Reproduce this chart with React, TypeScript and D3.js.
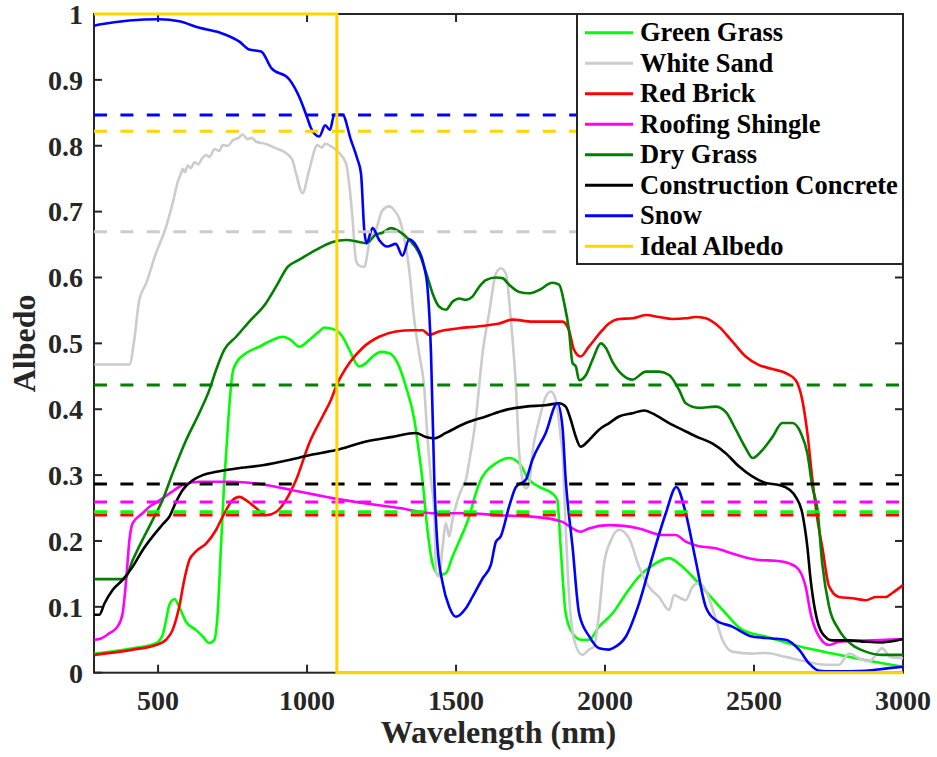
import React, { useEffect } from "react";
import * as d3 from "d3";

// Spectral albedo curves: [wavelength (nm), albedo]
const greenGrass: [number, number][] = [
  [286, 0.029], [415, 0.037], [493, 0.045], [515, 0.057], [527, 0.08], [538, 0.103], [555, 0.112],
  [571, 0.1], [594, 0.077], [627, 0.065], [650, 0.055], [672, 0.045], [689, 0.05], [700, 0.09],
  [711, 0.191], [722, 0.29], [728, 0.33], [739, 0.404], [750, 0.455], [762, 0.47], [795, 0.485],
  [840, 0.495], [884, 0.505], [918, 0.51], [946, 0.505], [974, 0.495], [1007, 0.505], [1041, 0.518],
  [1058, 0.524], [1097, 0.52], [1119, 0.51], [1142, 0.49], [1175, 0.465], [1198, 0.47], [1220, 0.48],
  [1248, 0.487], [1276, 0.485], [1304, 0.47], [1332, 0.434], [1360, 0.384], [1376, 0.333],
  [1388, 0.29], [1404, 0.217], [1421, 0.166], [1443, 0.148], [1466, 0.151], [1488, 0.176],
  [1511, 0.2], [1544, 0.237], [1566, 0.272], [1583, 0.293], [1600, 0.305], [1634, 0.318],
  [1678, 0.326], [1712, 0.318], [1745, 0.293], [1779, 0.282], [1823, 0.272], [1840, 0.262],
  [1851, 0.191], [1868, 0.09], [1891, 0.06], [1919, 0.05], [1946, 0.05], [1980, 0.07], [2025, 0.09],
  [2070, 0.12], [2114, 0.146], [2159, 0.163], [2215, 0.174], [2254, 0.163], [2293, 0.146],
  [2349, 0.118], [2405, 0.09], [2461, 0.065], [2539, 0.055], [2651, 0.04], [2763, 0.029],
  [2875, 0.019], [3000, 0.009],
];

const whiteSand: [number, number][] = [
  [286, 0.468], [404, 0.468], [420, 0.505], [437, 0.566], [460, 0.591], [493, 0.637], [527, 0.677],
  [549, 0.713], [566, 0.745], [577, 0.758], [583, 0.765], [590, 0.76], [600, 0.77], [610, 0.766],
  [622, 0.775], [635, 0.772], [648, 0.781], [661, 0.786], [672, 0.783], [690, 0.795], [705, 0.792],
  [717, 0.801], [735, 0.8], [750, 0.808], [770, 0.812], [784, 0.817], [800, 0.81], [815, 0.812],
  [829, 0.806], [860, 0.803], [896, 0.796], [929, 0.789], [951, 0.778], [963, 0.758], [985, 0.728],
  [1007, 0.763], [1035, 0.801], [1050, 0.797], [1060, 0.803], [1074, 0.801], [1108, 0.789],
  [1131, 0.773], [1142, 0.74], [1153, 0.687], [1164, 0.626], [1175, 0.618], [1192, 0.616],
  [1209, 0.652], [1231, 0.672], [1253, 0.702], [1276, 0.708], [1293, 0.702], [1309, 0.69],
  [1326, 0.66], [1343, 0.611], [1360, 0.535], [1376, 0.485], [1393, 0.434], [1404, 0.358],
  [1416, 0.293], [1427, 0.242], [1433, 0.151], [1443, 0.146], [1455, 0.191], [1466, 0.227],
  [1477, 0.207], [1488, 0.232], [1505, 0.262], [1522, 0.282], [1533, 0.293], [1544, 0.32],
  [1566, 0.384], [1589, 0.485], [1611, 0.546], [1634, 0.606], [1650, 0.614], [1667, 0.606],
  [1684, 0.536], [1701, 0.434], [1712, 0.333], [1723, 0.293], [1734, 0.28], [1745, 0.285],
  [1756, 0.333], [1779, 0.384], [1801, 0.419], [1818, 0.427], [1835, 0.414], [1851, 0.358],
  [1858, 0.33], [1868, 0.22], [1879, 0.12], [1896, 0.05], [1924, 0.027], [1946, 0.035],
  [1963, 0.04], [1980, 0.09], [1997, 0.166], [2019, 0.2], [2047, 0.217], [2081, 0.204],
  [2114, 0.161], [2148, 0.13], [2181, 0.115], [2215, 0.095], [2232, 0.118], [2254, 0.113],
  [2271, 0.11], [2293, 0.13], [2315, 0.136], [2343, 0.12], [2366, 0.09], [2394, 0.05],
  [2427, 0.032], [2494, 0.029], [2539, 0.03], [2606, 0.024], [2673, 0.017], [2740, 0.012],
  [2785, 0.012], [2819, 0.029], [2852, 0.022], [2886, 0.017], [2930, 0.037], [2958, 0.024],
  [3000, 0.022],
];

const redBrick: [number, number][] = [
  [286, 0.027], [415, 0.035], [493, 0.042], [527, 0.05], [549, 0.065], [571, 0.1], [588, 0.141],
  [605, 0.171], [627, 0.184], [661, 0.196], [695, 0.217], [717, 0.237], [750, 0.262], [773, 0.267],
  [795, 0.262], [829, 0.25], [862, 0.239], [896, 0.244], [929, 0.262], [963, 0.2925],
  [1007, 0.348], [1052, 0.389], [1080, 0.414], [1100, 0.437], [1142, 0.47], [1186, 0.493],
  [1242, 0.51], [1298, 0.518], [1354, 0.52], [1388, 0.52], [1410, 0.513], [1443, 0.518],
  [1511, 0.523], [1578, 0.526], [1645, 0.53], [1689, 0.536], [1756, 0.533], [1857, 0.533],
  [1879, 0.52], [1896, 0.49], [1918, 0.48], [1946, 0.495], [1991, 0.52], [2013, 0.53],
  [2047, 0.537], [2092, 0.538], [2137, 0.543], [2181, 0.54], [2226, 0.537], [2271, 0.538],
  [2304, 0.54], [2338, 0.538], [2383, 0.525], [2427, 0.503], [2472, 0.48], [2517, 0.467],
  [2562, 0.461], [2606, 0.455], [2640, 0.444], [2662, 0.414], [2679, 0.364], [2696, 0.293],
  [2713, 0.232], [2729, 0.191], [2752, 0.131], [2785, 0.115], [2830, 0.113], [2875, 0.11],
  [2908, 0.115], [2942, 0.115], [2964, 0.121], [3000, 0.133],
];

const roofingShingle: [number, number][] = [
  [286, 0.05], [303, 0.051], [337, 0.06], [364, 0.07], [381, 0.09], [393, 0.141], [404, 0.202],
  [415, 0.227], [448, 0.242], [471, 0.252], [493, 0.258], [538, 0.272], [583, 0.285], [638, 0.29],
  [750, 0.29], [862, 0.285], [951, 0.277], [1030, 0.27], [1086, 0.265], [1198, 0.257],
  [1309, 0.25], [1421, 0.242], [1533, 0.242], [1645, 0.239], [1756, 0.237], [1857, 0.229],
  [1891, 0.219], [1918, 0.214], [1946, 0.219], [2014, 0.224], [2114, 0.219], [2192, 0.209],
  [2237, 0.209], [2271, 0.199], [2315, 0.192], [2371, 0.189], [2427, 0.181], [2472, 0.175],
  [2517, 0.171], [2573, 0.17], [2618, 0.166], [2651, 0.156], [2673, 0.131], [2690, 0.09],
  [2712, 0.06], [2752, 0.042], [2785, 0.047], [2875, 0.049], [2942, 0.05], [3000, 0.051],
];

const dryGrass: [number, number][] = [
  [286, 0.142], [387, 0.142], [415, 0.171], [448, 0.202], [482, 0.232], [515, 0.262],
  [549, 0.303], [594, 0.353], [638, 0.394], [672, 0.429], [695, 0.46], [722, 0.49], [762, 0.51],
  [806, 0.533], [862, 0.561], [896, 0.586], [935, 0.616], [974, 0.627], [1030, 0.642],
  [1086, 0.654], [1131, 0.657], [1175, 0.654], [1198, 0.652], [1231, 0.665], [1253, 0.668],
  [1281, 0.675], [1309, 0.67], [1343, 0.657], [1376, 0.637], [1404, 0.601], [1421, 0.576],
  [1443, 0.556], [1466, 0.551], [1488, 0.563], [1511, 0.568], [1533, 0.566], [1555, 0.571],
  [1578, 0.586], [1600, 0.596], [1634, 0.6], [1656, 0.599], [1678, 0.589], [1712, 0.578],
  [1745, 0.576], [1779, 0.581], [1823, 0.592], [1846, 0.589], [1863, 0.561], [1879, 0.52],
  [1891, 0.47], [1902, 0.465], [1913, 0.444], [1936, 0.452], [1958, 0.475], [1986, 0.5],
  [2003, 0.493], [2025, 0.472], [2059, 0.452], [2092, 0.445], [2137, 0.457], [2181, 0.457],
  [2215, 0.452], [2249, 0.429], [2271, 0.409], [2315, 0.402], [2371, 0.404], [2405, 0.396],
  [2439, 0.369], [2472, 0.341], [2495, 0.326], [2528, 0.338], [2562, 0.358], [2595, 0.379],
  [2629, 0.379], [2657, 0.364], [2679, 0.333], [2696, 0.282], [2713, 0.247], [2729, 0.166],
  [2752, 0.1], [2785, 0.065], [2830, 0.042], [2875, 0.032], [2930, 0.027], [3000, 0.027],
];

const constructionConcrete: [number, number][] = [
  [286, 0.088], [303, 0.088], [320, 0.105], [348, 0.126], [381, 0.141], [415, 0.161], [448, 0.186],
  [482, 0.207], [515, 0.225], [538, 0.237], [560, 0.259], [582, 0.277], [616, 0.292], [650, 0.3],
  [695, 0.305], [762, 0.31], [851, 0.315], [940, 0.323], [1007, 0.33], [1097, 0.338],
  [1198, 0.351], [1287, 0.358], [1365, 0.364], [1399, 0.358], [1427, 0.356], [1466, 0.364],
  [1533, 0.379], [1600, 0.389], [1667, 0.399], [1734, 0.404], [1801, 0.406], [1846, 0.409],
  [1868, 0.404], [1885, 0.384], [1902, 0.358], [1918, 0.343], [1946, 0.353], [1980, 0.369],
  [2014, 0.379], [2047, 0.389], [2092, 0.394], [2131, 0.398], [2170, 0.391], [2215, 0.379],
  [2259, 0.369], [2304, 0.359], [2360, 0.348], [2405, 0.333], [2450, 0.313], [2494, 0.298],
  [2539, 0.288], [2584, 0.285], [2618, 0.278], [2640, 0.267], [2662, 0.242], [2679, 0.191],
  [2690, 0.141], [2707, 0.09], [2729, 0.06], [2763, 0.049], [2819, 0.049], [2875, 0.047],
  [2930, 0.046], [3000, 0.051],
];

const snow: [number, number][] = [
  [286, 0.982], [303, 0.984], [504, 0.992], [571, 0.989], [639, 0.979], [706, 0.972], [773, 0.958],
  [806, 0.946], [846, 0.943], [880, 0.918], [940, 0.901], [974, 0.874], [1001, 0.842],
  [1013, 0.827], [1041, 0.814], [1061, 0.831], [1077, 0.824], [1091, 0.847], [1119, 0.847],
  [1147, 0.809], [1168, 0.781], [1181, 0.758], [1192, 0.672], [1200, 0.652], [1220, 0.675],
  [1242, 0.657], [1269, 0.647], [1298, 0.651], [1320, 0.633], [1343, 0.658], [1365, 0.649],
  [1393, 0.616], [1404, 0.586], [1416, 0.485], [1427, 0.293], [1438, 0.191], [1455, 0.136],
  [1477, 0.1], [1499, 0.085], [1533, 0.098], [1555, 0.115], [1589, 0.143], [1617, 0.164],
  [1634, 0.199], [1650, 0.207], [1678, 0.252], [1701, 0.282], [1734, 0.293], [1756, 0.323],
  [1801, 0.364], [1840, 0.409], [1857, 0.374], [1868, 0.293], [1891, 0.191], [1913, 0.09],
  [1947, 0.055], [1980, 0.037], [2014, 0.035], [2025, 0.037], [2070, 0.055], [2114, 0.105],
  [2159, 0.176], [2204, 0.242], [2239, 0.282], [2271, 0.242], [2304, 0.171], [2338, 0.1],
  [2371, 0.08], [2427, 0.07], [2494, 0.055], [2561, 0.052], [2606, 0.05], [2651, 0.035],
  [2685, 0.014], [2718, 0.003], [2763, 0.002], [2875, 0.003], [2953, 0.007], [3000, 0.009],
];

const idealAlbedo: [number, number][] = [
  [285, 1], [1100, 1], [1100, 0], [3000, 0],
];

// Band-averaged albedo for each surface (dashed reference levels)
const meanAlbedo = [0.2445, 0.6695, 0.2394, 0.259, 0.4368, 0.2865, 0.8467, 0.822];

const seriesNames = [
  "Green Grass", "White Sand", "Red Brick", "Roofing Shingle",
  "Dry Grass", "Construction Concrete", "Snow", "Ideal Albedo",
];
const seriesColors = [
  "#00ff00", "#cccccc", "#ff0000", "#ff00ff", "#007f00", "#000000", "#0000ff", "#ffd500",
];
const seriesData = [
  greenGrass, whiteSand, redBrick, roofingShingle, dryGrass, constructionConcrete, snow, idealAlbedo,
];

const xTicks = [500, 1000, 1500, 2000, 2500, 3000];
const yTicks = [0, 0.1, 0.2, 0.3, 0.4, 0.5, 0.6, 0.7, 0.8, 0.9, 1];

const W = 937;
const H = 757;
const plot = { left: 94, right: 903, top: 14, bottom: 672.7 };
const FONT = "'Liberation Serif', 'Times New Roman', serif";
const AXIS = "#262626";
const IDEAL = 7;

export default function App() {
  useEffect(() => {
    document.body.style.margin = "0";
  }, []);

  const x = d3.scaleLinear().domain([285, 3000]).range([plot.left, plot.right]);
  const y = d3.scaleLinear().domain([0, 1]).range([plot.bottom, plot.top]);

  const smooth = d3
    .line<[number, number]>()
    .x((d) => x(d[0]))
    .y((d) => y(d[1]))
    .curve(d3.curveMonotoneX);
  const straight = d3
    .line<[number, number]>()
    .x((d) => x(d[0]))
    .y((d) => y(d[1]));

  const tickLen = 8;
  const legend = { x0: 577, y0: 14, x1: 903, y1: 264, rowY: 32.7, rowGap: 30.5 };

  return (
    <svg width={W} height={H} style={{ display: "block", background: "#fff" }} fontFamily={FONT}>
      {/* axes box */}
      <g stroke={AXIS} strokeWidth={2} fill="none">
        <rect x={plot.left} y={plot.top} width={plot.right - plot.left} height={plot.bottom - plot.top} />
        {xTicks.map((t) => (
          <g key={"xt" + t}>
            <line x1={x(t)} x2={x(t)} y1={plot.bottom} y2={plot.bottom - tickLen} />
            <line x1={x(t)} x2={x(t)} y1={plot.top} y2={plot.top + tickLen} />
          </g>
        ))}
        {yTicks.map((t) => (
          <g key={"yt" + t}>
            <line x1={plot.left} x2={plot.left + tickLen} y1={y(t)} y2={y(t)} />
            <line x1={plot.right} x2={plot.right - tickLen} y1={y(t)} y2={y(t)} />
          </g>
        ))}
      </g>

      {/* tick labels */}
      <g fill={AXIS} fontWeight="bold" fontSize={28}>
        {xTicks.map((t) => (
          <text key={"xl" + t} x={x(t)} y={710} textAnchor="middle">
            {d3.format("d")(t)}
          </text>
        ))}
        {yTicks.map((t) => (
          <text key={"yl" + t} x={83} y={y(t)} dy="0.35em" textAnchor="end">
            {t === 0 || t === 1 ? String(t) : d3.format(".1f")(t)}
          </text>
        ))}
      </g>

      {/* axis titles */}
      <text x={(plot.left + plot.right) / 2} y={743} textAnchor="middle" fontSize={32} fontWeight="bold" fill={AXIS}>
        Wavelength (nm)
      </text>
      <text
        transform={`translate(35, ${(plot.top + plot.bottom) / 2}) rotate(-90)`}
        textAnchor="middle"
        fontSize={32}
        fontWeight="bold"
        fill={AXIS}
      >
        Albedo
      </text>

      {/* measured spectral curves */}
      <g fill="none" strokeLinejoin="round">
        {seriesData.map((data, i) =>
          i === IDEAL ? null : (
            <path key={"s" + i} d={smooth(data) ?? ""} stroke={seriesColors[i]} strokeWidth={2.6} />
          )
        )}
      </g>

      {/* mean albedo levels */}
      <g fill="none" strokeWidth={3} strokeDasharray="13,13.4">
        {meanAlbedo.map((m, i) => (
          <line key={"m" + i} x1={plot.left} x2={plot.right} y1={y(m)} y2={y(m)} stroke={seriesColors[i]} />
        ))}
      </g>

      {/* ideal step albedo */}
      <path d={straight(seriesData[IDEAL]) ?? ""} fill="none" stroke={seriesColors[IDEAL]} strokeWidth={3} />

      {/* legend */}
      <g>
        <rect
          x={legend.x0}
          y={legend.y0}
          width={legend.x1 - legend.x0}
          height={legend.y1 - legend.y0}
          fill="#fff"
          stroke={AXIS}
          strokeWidth={2}
        />
        {seriesNames.map((name, i) => {
          const cy = legend.rowY + i * legend.rowGap;
          return (
            <g key={"lg" + i}>
              <line x1={585} x2={633} y1={cy} y2={cy} stroke={seriesColors[i]} strokeWidth={3} />
              <text x={640} y={cy} dy="0.33em" fontSize={26.5} fontWeight="bold" fill="#000">
                {name}
              </text>
            </g>
          );
        })}
      </g>
    </svg>
  );
}
